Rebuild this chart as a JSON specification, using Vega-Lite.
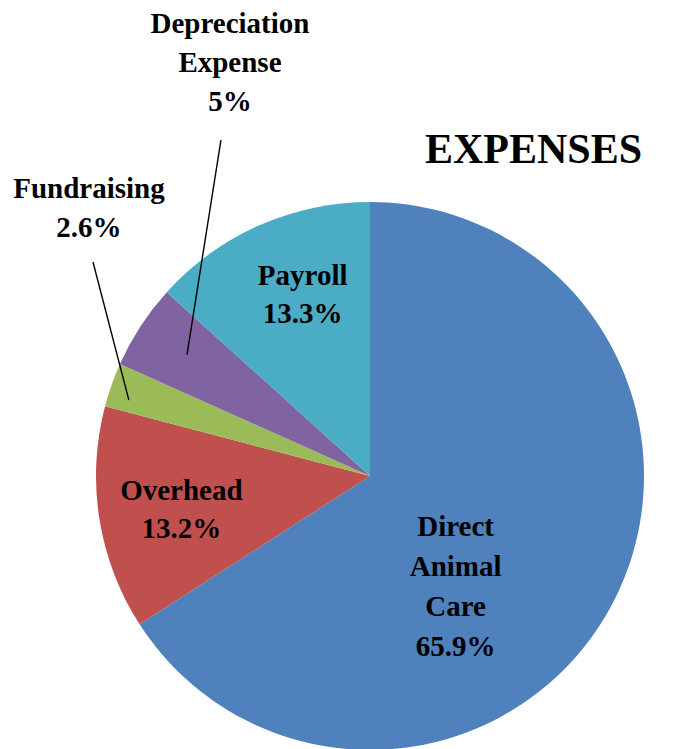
{
  "$schema": "https://vega.github.io/schema/vega-lite/v6.json",
  "autosize": {"type": "none"},
  "width": 548,
  "height": 548,
  "padding": {"left": 96, "top": 202, "right": 40, "bottom": 0},
  "background": "white",
  "config": {"view": {"stroke": null}},
  "title": {
    "text": "EXPENSES",
    "anchor": "end",
    "font": "Liberation Serif",
    "fontSize": 42,
    "fontWeight": "bold",
    "color": "black",
    "baseline": "alphabetic",
    "offset": 39,
    "dx": -2,
    "dy": 234
  },
  "datasets": {
    "expenses": [
      {"category": "Direct Animal Care", "percent": 65.9, "order": 1, "label": "Direct\nAnimal\nCare\n65.9%"},
      {"category": "Overhead", "percent": 13.2, "order": 2, "label": "Overhead\n13.2%"},
      {"category": "Fundraising", "percent": 2.6, "order": 3, "label": "Fundraising\n2.6%"},
      {"category": "Depreciation Expense", "percent": 5.0, "order": 4, "label": "Depreciation\nExpense\n5%"},
      {"category": "Payroll", "percent": 13.3, "order": 5, "label": "Payroll\n13.3%"}
    ],
    "leaders": [
      {"category": "Fundraising", "label": "Fundraising\n2.6%", "x": -1.011, "y": 0.781, "x2": -0.880, "y2": 0.277},
      {"category": "Depreciation Expense", "label": "Depreciation\nExpense\n5%", "x": -0.544, "y": 1.226, "x2": -0.668, "y2": 0.442}
    ]
  },
  "layer": [
    {
      "data": {"name": "expenses"},
      "mark": {"type": "arc"},
      "encoding": {
        "theta": {"field": "percent", "type": "quantitative", "stack": true},
        "order": {"field": "order", "type": "quantitative"},
        "color": {
          "field": "category",
          "type": "nominal",
          "scale": {
            "domain": ["Direct Animal Care", "Overhead", "Fundraising", "Depreciation Expense", "Payroll"],
            "range": ["#4F81BD", "#C0504D", "#9BBB59", "#8064A2", "#4BACC6"]
          },
          "legend": null
        }
      }
    },
    {
      "data": {"name": "expenses"},
      "mark": {"type": "text", "radius": 193, "dx": 11, "dy": -24, "font": "Liberation Serif", "fontSize": 29, "fontWeight": "bold", "color": "black", "lineBreak": "\n", "lineHeight": 38, "align": "center", "baseline": "middle"},
      "encoding": {
        "theta": {"field": "percent", "type": "quantitative", "stack": true},
        "order": {"field": "order", "type": "quantitative"},
        "detail": {"field": "category", "type": "nominal"},
        "text": {
          "condition": {"test": "datum.category === 'Payroll'", "field": "label"},
          "value": ""
        }
      }
    },
    {
      "data": {"name": "expenses"},
      "mark": {"type": "text", "radius": 193, "dx": 2, "dy": -15, "font": "Liberation Serif", "fontSize": 29, "fontWeight": "bold", "color": "black", "lineBreak": "\n", "lineHeight": 38, "align": "center", "baseline": "middle"},
      "encoding": {
        "theta": {"field": "percent", "type": "quantitative", "stack": true},
        "order": {"field": "order", "type": "quantitative"},
        "detail": {"field": "category", "type": "nominal"},
        "text": {
          "condition": {"test": "datum.category === 'Overhead'", "field": "label"},
          "value": ""
        }
      }
    },
    {
      "data": {"name": "expenses"},
      "mark": {"type": "text", "radius": 142, "dx": -39, "dy": -17, "font": "Liberation Serif", "fontSize": 29, "fontWeight": "bold", "color": "black", "lineBreak": "\n", "lineHeight": 40, "align": "center", "baseline": "middle"},
      "encoding": {
        "theta": {"field": "percent", "type": "quantitative", "stack": true},
        "order": {"field": "order", "type": "quantitative"},
        "detail": {"field": "category", "type": "nominal"},
        "text": {
          "condition": {"test": "datum.category === 'Direct Animal Care'", "field": "label"},
          "value": ""
        }
      }
    },
    {
      "data": {"name": "leaders"},
      "mark": {"type": "rule", "color": "black", "strokeWidth": 1.4},
      "encoding": {
        "x": {"field": "x", "type": "quantitative", "scale": {"domain": [-1, 1], "nice": false, "zero": false}, "axis": null},
        "y": {"field": "y", "type": "quantitative", "scale": {"domain": [-1, 1], "nice": false, "zero": false}, "axis": null},
        "x2": {"field": "x2"},
        "y2": {"field": "y2"}
      }
    },
    {
      "data": {"name": "leaders"},
      "transform": [{"filter": "datum.category === 'Fundraising'"}],
      "mark": {"type": "text", "dx": -4, "dy": -58, "font": "Liberation Serif", "fontSize": 29, "fontWeight": "bold", "color": "black", "lineBreak": "\n", "lineHeight": 39, "align": "center", "baseline": "bottom"},
      "encoding": {
        "x": {"field": "x", "type": "quantitative"},
        "y": {"field": "y", "type": "quantitative"},
        "text": {"field": "label"}
      }
    },
    {
      "data": {"name": "leaders"},
      "transform": [{"filter": "datum.category === 'Depreciation Expense'"}],
      "mark": {"type": "text", "dx": 9, "dy": -101, "font": "Liberation Serif", "fontSize": 29, "fontWeight": "bold", "color": "black", "lineBreak": "\n", "lineHeight": 39, "align": "center", "baseline": "bottom"},
      "encoding": {
        "x": {"field": "x", "type": "quantitative"},
        "y": {"field": "y", "type": "quantitative"},
        "text": {"field": "label"}
      }
    }
  ]
}
